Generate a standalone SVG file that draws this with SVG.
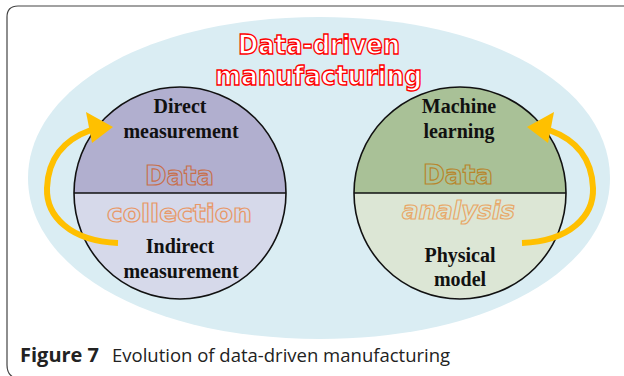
<svg xmlns="http://www.w3.org/2000/svg" width="624" height="376" viewBox="0 0 624 376">
<style>
.title{font-family:"DejaVu Sans",sans-serif;font-weight:bold;fill:#ffffff;stroke:#ff0000;stroke-width:1.4px}
.word{font-family:"DejaVu Sans",sans-serif;font-weight:bold;fill:none;stroke-width:1.2px}
.lbl{font-family:"Liberation Serif",serif;font-weight:bold;font-size:20px;fill:#111;text-anchor:middle}
.cap{font-family:"Open Sans",sans-serif;font-size:18.5px;fill:#222}
.circ{stroke:#111;stroke-width:1.6}
.arr{fill:none;stroke:#ffc000;stroke-width:6}
</style>
<path d="M624,6 H18 Q7,6 7,17 V365 Q7,375 15,378" fill="none" stroke="#444" stroke-width="1.2"/>
<path id="bg" d="M320,17 C494,17 610,89 610,178 C610,267 494,339 320,339 C146,339 28,267 28,178 C28,89 146,17 320,17 Z" fill="#daedf3"/>
<g id="title">
<text class="title" x="238" y="54" font-size="27" textLength="162" lengthAdjust="spacingAndGlyphs">Data-driven</text>
<text class="title" x="215" y="85" font-size="27" textLength="207" lengthAdjust="spacingAndGlyphs">manufacturing</text>
</g>
<g id="collection">
<path d="M74,193 A106,106 0 0 1 286,193 Z" fill="#b1afcf"/>
<path d="M74,193 A106,106 0 0 0 286,193 Z" fill="#d6d9ea"/>
<circle class="circ" cx="180" cy="193" r="106" fill="none"/>
<line class="circ" x1="74" y1="193" x2="286" y2="193"/>
<text class="lbl" x="180" y="113">Direct</text>
<text class="lbl" x="181" y="138">measurement</text>
<text class="lbl" x="180" y="253">Indirect</text>
<text class="lbl" x="181" y="278">measurement</text>
<text class="word" x="145" y="185" font-size="27" stroke="#c8704c" textLength="69" lengthAdjust="spacingAndGlyphs">Data</text>
<text class="word" x="107" y="222" font-size="25" stroke="#e89868" textLength="145" lengthAdjust="spacingAndGlyphs">collection</text>
</g>
<g id="analysis">
<path d="M354,193 A106,106 0 0 1 566,193 Z" fill="#a9c197"/>
<path d="M354,193 A106,106 0 0 0 566,193 Z" fill="#dce6d5"/>
<circle class="circ" cx="460" cy="193" r="106" fill="none"/>
<line class="circ" x1="354" y1="193" x2="566" y2="193"/>
<text class="lbl" x="459" y="113">Machine</text>
<text class="lbl" x="459" y="138">learning</text>
<text class="lbl" x="460" y="262">Physical</text>
<text class="lbl" x="460" y="286">model</text>
<text class="word" x="423" y="184" font-size="27" stroke="#b8862c" textLength="70" lengthAdjust="spacingAndGlyphs">Data</text>
<text class="word" x="402" y="219" font-size="25" font-style="italic" stroke="#e8a868" textLength="113" lengthAdjust="spacingAndGlyphs">analysis</text>
</g>
<g id="connectors">
<path class="arr" d="M118,243 C70,241 46,216 47,188 C48,160 63,140 91,130"/>
<polygon points="113,127 86,112 92,143" fill="#ffc000"/>
<path class="arr" d="M522,243 C570,241 594,216 593,188 C592,160 577,140 549,130"/>
<polygon points="527,127 554,112 548,143" fill="#ffc000"/>
</g>
<text class="cap" x="20" y="362"><tspan font-weight="bold" font-size="20">Figure 7</tspan><tspan x="112">Evolution of data-driven manufacturing</tspan></text>
</svg>
